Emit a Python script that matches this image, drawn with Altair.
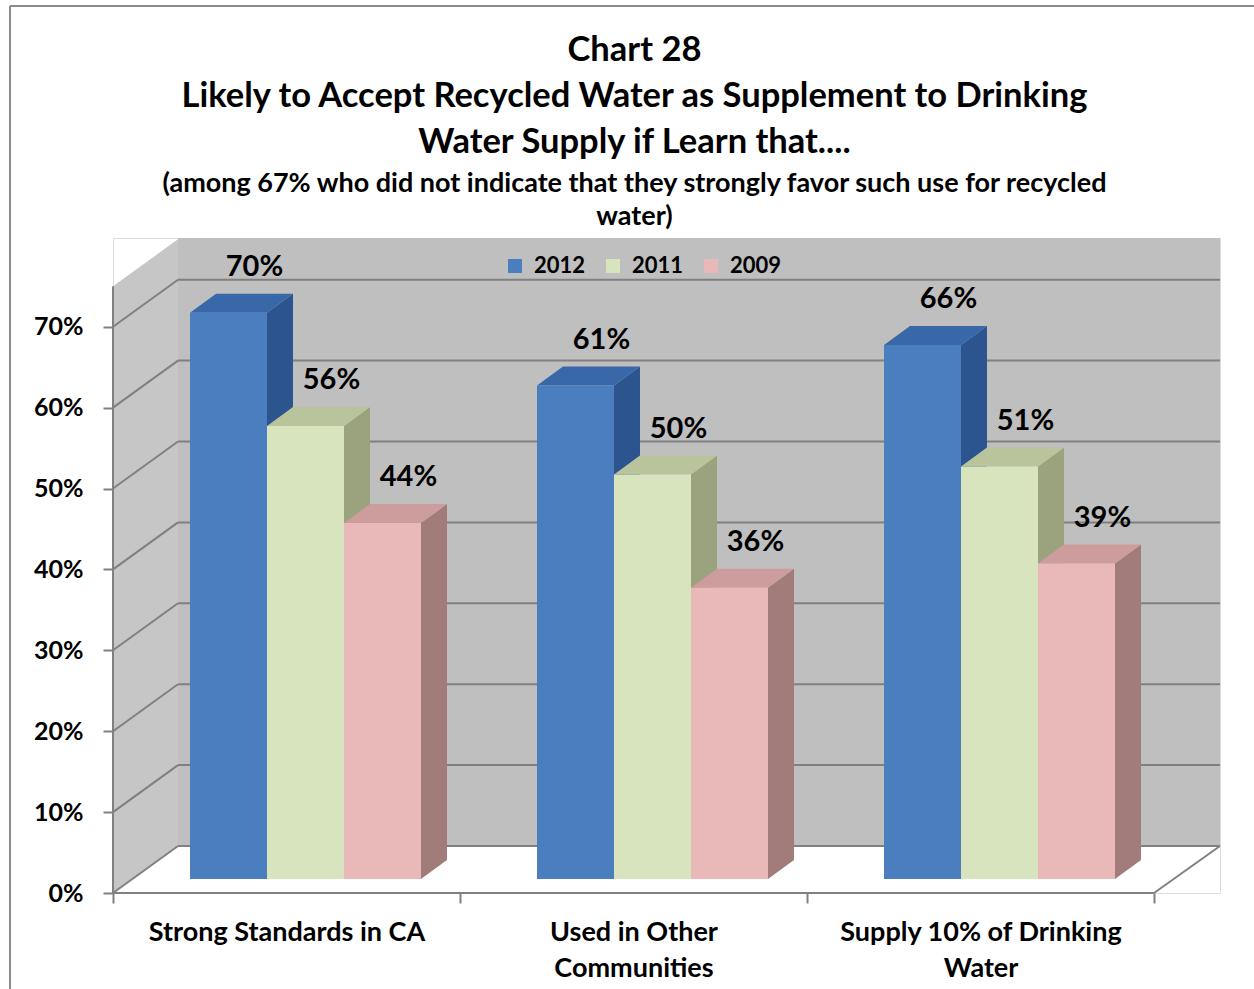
import json
import altair as alt
import pandas as pd

# ---------------- data ----------------
categories = ["Strong Standards in CA", "Used in Other Communities", "Supply 10% of Drinking Water"]
category_lines = [["Strong Standards in CA"], ["Used in Other", "Communities"], ["Supply 10% of Drinking", "Water"]]
years = ["2012", "2011", "2009"]
values_2012 = [70, 61, 66]
values_2011 = [56, 50, 51]
values_2009 = [44, 36, 39]
y_tick_values = [0, 10, 20, 30, 40, 50, 60, 70]

title_lines = ["Chart 28", "Likely to Accept Recycled Water as Supplement to Drinking", "Water Supply if Learn that...."]
subtitle_lines = ["(among 67% who did not indicate that they strongly favor such use for recycled", "water)"]

series = {"2012": values_2012, "2011": values_2011, "2009": values_2009}

# ---------------- geometry (data units) ----------------
W, H = 1107, 655
PX_X = 347.0          # px per category
PX_Y = 809.0          # px per 100%
XMAX = W / PX_X
YMAX = H / PX_Y
DX = 65 / PX_X        # wall depth
DY = 47 / PX_Y
BASE = 14 / PX_Y      # bar base above front edge
BAR_START = 77 / PX_X
BAR_W = 77 / PX_X
D = 26 / PX_X         # bar depth
E = 19 / PX_Y
LX = 26 / PX_X
LY = 0.033
LEFT_TOP = 0.75

FONT = "Lato"

front, side, top, labels = [], [], [], []
for ci, cat in enumerate(categories):
    for yi, yr in enumerate(years):
        v = series[yr][ci] / 100.0
        bid = f"{ci}-{yr}"
        xl = ci + BAR_START + yi * BAR_W
        xr = xl + BAR_W
        t = v + BASE
        front.append({"bar": bid, "year": yr, "x": xl, "x2": xr, "y": BASE, "y2": t})
        side += [
            {"bar": bid, "year": yr, "x": xr, "y": BASE, "y2": t},
            {"bar": bid, "year": yr, "x": xr + D, "y": BASE + E, "y2": t + E},
        ]
        top += [
            {"bar": bid, "year": yr, "x": xl, "y": t, "y2": t},
            {"bar": bid, "year": yr, "x": xl + D, "y": t, "y2": t + E},
            {"bar": bid, "year": yr, "x": xr, "y": t, "y2": t + E},
            {"bar": bid, "year": yr, "x": xr + D, "y": t + E, "y2": t + E},
        ]
        labels.append({"x": (xl + xr) / 2 + LX, "y": t + E + LY, "text": f"{series[yr][ci]}%"})

grid = []
for tv in y_tick_values:
    v = tv / 100.0
    grid.append({"x": DX, "x2": XMAX, "y": v + DY, "y2": v + DY})
    grid.append({"x": 0, "x2": DX, "y": v, "y2": v + DY})
grid.append({"x": 3, "x2": XMAX, "y": 0, "y2": DY})
grid.append({"x": 0, "x2": 3, "y": 0, "y2": 0})
grid.append({"x": 0, "x2": 0, "y": 0, "y2": LEFT_TOP})

xs = alt.Scale(domain=[0, XMAX], nice=False, zero=False)
ys = alt.Scale(domain=[0, YMAX], nice=False, zero=False)

front_colors = ["#4A7EBF", "#D8E4BD", "#E8B9B8"]
side_colors = ["#2C5590", "#9BA37E", "#A17C7B"]
top_colors = ["#3868A8", "#BAC49C", "#CC9D9C"]

back_wall = alt.Chart(pd.DataFrame([{"x": DX, "x2": XMAX, "y": DY, "y2": YMAX}])).mark_rect(
    color="#BFBFBF"
).encode(
    x=alt.X("x:Q", scale=xs, axis=None), x2="x2:Q",
    y=alt.Y("y:Q", scale=ys, axis=None), y2="y2:Q",
)

left_wall = alt.Chart(pd.DataFrame([
    {"x": 0, "y": 0, "y2": LEFT_TOP},
    {"x": DX, "y": DY, "y2": LEFT_TOP + DY},
])).mark_area(color="#C6C6C6", orient="vertical").encode(
    x=alt.X("x:Q", scale=xs, axis=None),
    y=alt.Y("y:Q", scale=ys, axis=None), y2="y2:Q",
)

grid_layer = alt.Chart(pd.DataFrame(grid)).mark_rule(color="#808080", strokeWidth=2).encode(
    x=alt.X("x:Q", scale=xs, title=None,
            axis=alt.Axis(values=[0, 1, 2, 3], labels=False, domain=False, grid=False,
                          ticks=True, tickSize=10, tickColor="#808080", tickWidth=2, orient="bottom")),
    x2="x2:Q",
    y=alt.Y("y:Q", scale=ys, title=None,
            axis=alt.Axis(values=[v / 100 for v in y_tick_values], format=".0%", domain=False, grid=False,
                          tickSize=10, tickColor="#808080", tickWidth=2, labelPadding=20,
                          labelFont=FONT, labelFontSize=25, labelFontWeight="bold", labelColor="#000000")),
    y2="y2:Q",
)

side_layer = alt.Chart(pd.DataFrame(side)).mark_area(orient="vertical", opacity=1).encode(
    x=alt.X("x:Q", scale=xs, axis=None),
    y=alt.Y("y:Q", scale=ys, axis=None), y2="y2:Q",
    detail="bar:N",
    color=alt.Color("year:N", scale=alt.Scale(domain=years, range=side_colors), legend=None),
)

top_layer = alt.Chart(pd.DataFrame(top)).mark_area(orient="vertical", opacity=1).encode(
    x=alt.X("x:Q", scale=xs, axis=None),
    y=alt.Y("y:Q", scale=ys, axis=None), y2="y2:Q",
    detail="bar:N",
    color=alt.Color("year:N", scale=alt.Scale(domain=years, range=top_colors), legend=None),
)

label_expr = " : ".join(
    [f"datum.value < {i + 1} ? {json.dumps(lines)}" for i, lines in enumerate(category_lines[:-1])]
    + [json.dumps(category_lines[-1])]
)

front_layer = alt.Chart(pd.DataFrame(front)).mark_rect().encode(
    x=alt.X("x:Q", scale=xs, title=None,
            axis=alt.Axis(values=[0.5, 1.5, 2.5], labelExpr=label_expr, domain=False, grid=False,
                          ticks=False, tickSize=0, labelPadding=26, labelLineHeight=36, labelLimit=600,
                          labelFont=FONT, labelFontSize=27, labelFontWeight="bold", labelColor="#000000",
                          orient="bottom", labelBaseline="top")),
    x2="x2:Q",
    y=alt.Y("y:Q", scale=ys, axis=None), y2="y2:Q",
    color=alt.Color("year:N", scale=alt.Scale(domain=years, range=front_colors),
                    legend=alt.Legend(title=None, orient="none", direction="horizontal",
                                      legendX=391, legendY=17, padding=0,
                                      symbolType="square", symbolSize=196, symbolStrokeWidth=0,
                                      labelFont=FONT, labelFontSize=22, labelFontWeight="bold",
                                      labelColor="#000000", labelOffset=8, columnPadding=16)),
)

text_layer = alt.Chart(pd.DataFrame(labels)).mark_text(
    font=FONT, fontSize=29, fontWeight="bold", color="#000000", baseline="middle", align="center"
).encode(
    x=alt.X("x:Q", scale=xs, axis=None),
    y=alt.Y("y:Q", scale=ys, axis=None),
    text="text:N",
)

border = alt.Chart(pd.DataFrame([{"a": 0}])).mark_rule(color="#8C8C8C", strokeWidth=2).encode(
    x=alt.value(-103), x2=alt.value(W + 40), y=alt.value(-232)
)
border_left = alt.Chart(pd.DataFrame([{"a": 0}])).mark_rule(color="#8C8C8C", strokeWidth=2).encode(
    x=alt.value(-103), y=alt.value(-232), y2=alt.value(H + 100)
)

chart = alt.layer(
    back_wall, left_wall, grid_layer, side_layer, top_layer, front_layer, text_layer, border, border_left
).resolve_scale(color="independent").resolve_axis(x="independent", y="independent").properties(
    width=W, height=H,
    autosize=alt.AutoSizeParams(type="none"),
    padding={"left": 113, "top": 238, "right": 34, "bottom": 96},
    title=alt.TitleParams(
        text=title_lines, subtitle=subtitle_lines,
        font=FONT, fontSize=34.5, fontWeight="bold", color="#000000", lineHeight=46,
        subtitleFont=FONT, subtitleFontSize=27, subtitleFontWeight="bold", subtitleColor="#000000",
        subtitleLineHeight=33, subtitlePadding=11,
        anchor="middle", frame="group", dx=-32, offset=-226,
    ),
).configure_view(stroke="transparent").configure(background="#FFFFFF")

chart.save("out.html", embed_options={"renderer": "svg", "actions": False})
